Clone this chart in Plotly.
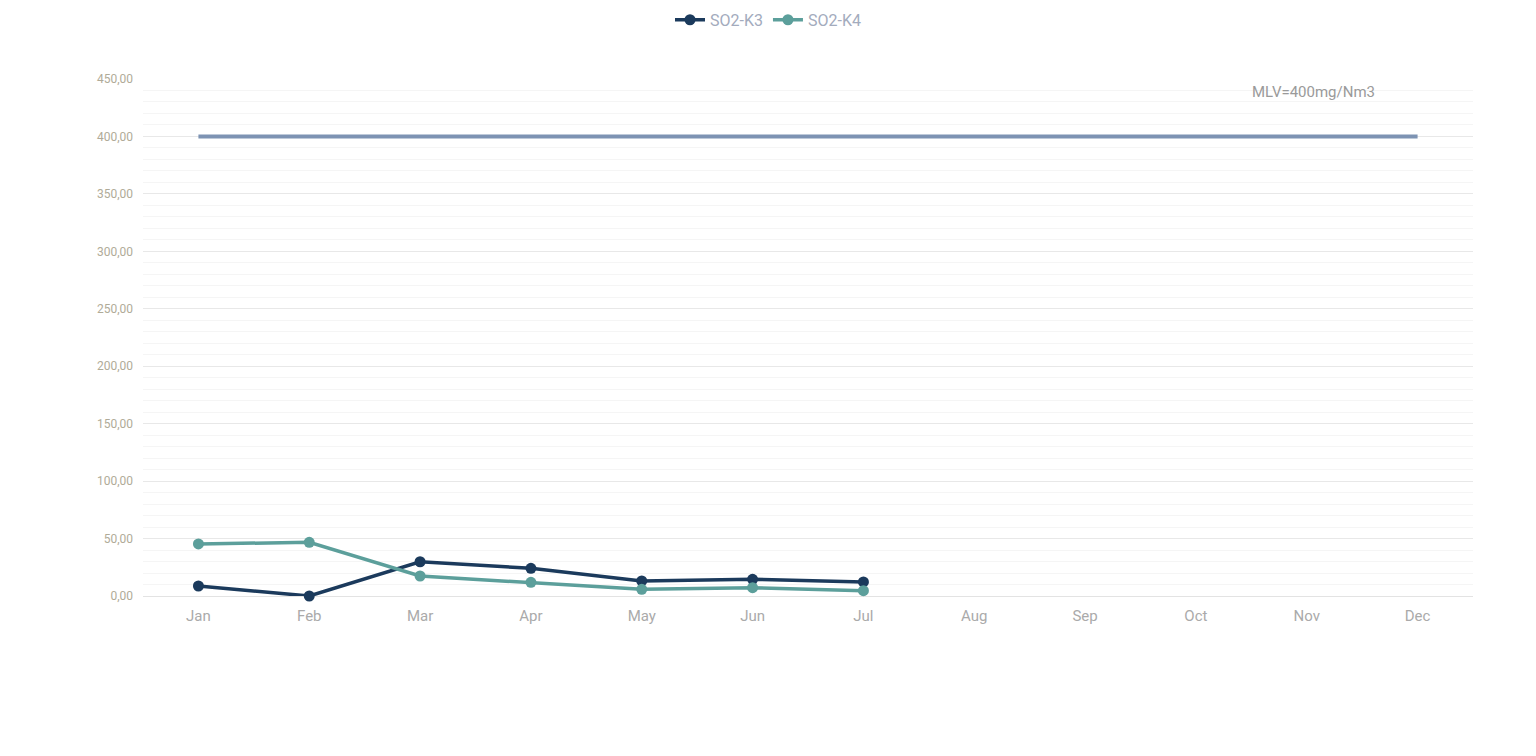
import plotly.graph_objects as go

months = ["Jan", "Feb", "Mar", "Apr", "May", "Jun", "Jul", "Aug", "Sep", "Oct", "Nov", "Dec"]
so2_k3 = [8.7, 0.0, 29.8, 24.1, 13.1, 14.5, 12.2]
so2_k4 = [45.3, 46.7, 17.4, 11.9, 5.8, 7.2, 4.6]
mlv = [400] * 12
mlv_label = "MLV=400mg/Nm3"

fig = go.Figure()
fig.add_trace(go.Scatter(
    x=months, y=mlv, mode="lines", showlegend=False, hoverinfo="skip",
    line=dict(color="#7d93b3", width=4),
))
fig.add_trace(go.Scatter(
    x=months[:len(so2_k3)], y=so2_k3, mode="lines+markers", name="SO2-K3",
    line=dict(color="#1b3a5c", width=3.5), marker=dict(size=11, color="#1b3a5c"),
    cliponaxis=False,
))
fig.add_trace(go.Scatter(
    x=months[:len(so2_k4)], y=so2_k4, mode="lines+markers", name="SO2-K4",
    line=dict(color="#5c9f9b", width=3.5), marker=dict(size=11, color="#5c9f9b"),
    cliponaxis=False,
))

fig.add_annotation(
    x=10.06, y=439, xref="x", yref="y", text=mlv_label, showarrow=False,
    font=dict(size=15, color="#9a9a9a", family="Roboto"),
)

fig.update_layout(
    width=1520, height=740,
    paper_bgcolor="white", plot_bgcolor="white",
    separators=",.",
    font=dict(family="Roboto", color="#aaaaaa"),
    margin=dict(l=135, r=55, t=71, b=152, autoexpand=False),
    legend=dict(orientation="h", x=0.5, xref="container", xanchor="center",
                y=0.984, yref="container", yanchor="middle",
                font=dict(size=16, color="#a3abbd"), itemwidth=30,
                tracegroupgap=0),
    xaxis=dict(
        type="category", categoryorder="array", categoryarray=months,
        range=[-0.5, 11.5], showgrid=False, zeroline=False, showline=False,
        tickfont=dict(size=15, color="#aaaaaa"), ticks="", ticklabelstandoff=9,
    ),
    yaxis=dict(
        range=[0, 450], dtick=50, tickformat=".2f",
        showgrid=True, gridcolor="#e8e8e8", gridwidth=1,
        zeroline=True, zerolinecolor="#e3e3e3", zerolinewidth=1,
        showline=False, ticks="",
        tickfont=dict(size=12, color="#b0ab98"), ticklabelstandoff=9,
        minor=dict(dtick=10, showgrid=True, gridcolor="#f5f5f5", gridwidth=1),
    ),
)

fig.write_html("out.html")
